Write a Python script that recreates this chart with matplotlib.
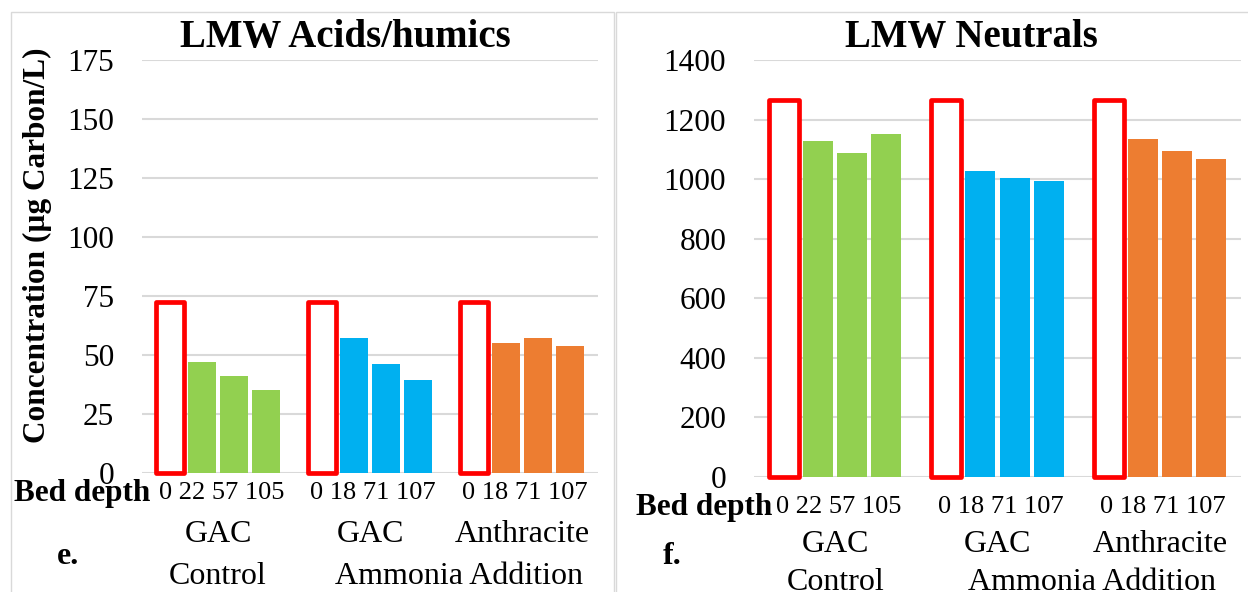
import matplotlib
matplotlib.use('Agg')
import matplotlib.pyplot as plt
import matplotlib.transforms as mtransforms
from matplotlib.patches import Rectangle

plt.rcParams['font.family'] = ['Liberation Serif', 'DejaVu Serif']

# Dane
groups_top = ['GAC', 'GAC', 'Anthracite']
groups_bottom = ['Control', 'Ammonia Addition']
depths = [['0', '22', '57', '105'], ['0', '18', '71', '107'], ['0', '18', '71', '107']]
colors = ['#92D050', '#00B0F0', '#ED7D31']

acids = [[47, 41, 35], [57, 46, 39.5], [55, 57, 54]]
acids_box = 72.5
neutrals = [[1128, 1088, 1152], [1027, 1004, 994], [1135, 1094, 1068]]
neutrals_box = 1265

W, H = 1248, 592
fig = plt.figure(figsize=(W / 100, H / 100), dpi=100)

# ramki paneli
fig.patches.append(Rectangle((11 / W, -0.1), (614 - 11) / W, 1.1 - 12 / H, transform=fig.transFigure,
                             fill=False, edgecolor='#D9D9D9', lw=1))
fig.patches.append(Rectangle((616 / W, -0.1), 0.6, 1.1 - 12 / H, transform=fig.transFigure,
                             fill=False, edgecolor='#D9D9D9', lw=1))


def px(x, y):
    return x / W, 1 - y / H


def panel(rect, values, box_top, ymax, ystep, title, title_x, letter, letter_x,
          bed_x, depth_y, row1_y, row2_y):
    ax = fig.add_axes(rect)
    for g in range(3):
        x0 = g * 4.75
        ax.bar(x0, box_top, width=0.875, facecolor='white', edgecolor='#FF0000', linewidth=3.4,
               joinstyle='round', zorder=3, clip_on=False)
        ax.bar([x0 + 1 + i for i in range(3)], values[g], width=0.875, color=colors[g], zorder=2)
    ax.set_xlim(-0.875, 13.375)
    ax.set_ylim(0, ymax)
    ax.set_yticks(range(0, ymax + 1, ystep))
    ax.tick_params(axis='y', length=0, pad=20, labelsize=22.5)
    ax.set_xticks([])
    for s in ax.spines.values():
        s.set_visible(False)
    ax.grid(axis='y', color='#D9D9D9', linewidth=1.5)
    ax.set_axisbelow(True)

    tr = mtransforms.blended_transform_factory(ax.transData, fig.transFigure)
    for g in range(3):
        xc = g * 4.75 + 1.5
        ax.text(xc + 0.1, 1 - depth_y / H, ' '.join(depths[g]), transform=tr, ha='center', va='center',
                fontsize=19, clip_on=False)
        ax.text(xc, 1 - row1_y / H, groups_top[g], transform=tr, ha='center', va='center',
                fontsize=23, clip_on=False)
    ax.text(1.5, 1 - row2_y / H, groups_bottom[0], transform=tr, ha='center', va='center',
            fontsize=23, clip_on=False)
    ax.text((4.75 + 1.5 + 9.5 + 1.5) / 2 + 0.4, 1 - row2_y / H, groups_bottom[1], transform=tr,
            ha='center', va='center', fontsize=23, clip_on=False)

    fig.text(*px(bed_x, depth_y), 'Bed depth', ha='right', va='center', fontsize=22.5, fontweight='bold')
    fig.text(*px(title_x, 38), title, ha='center', va='center', fontsize=28, fontweight='bold')
    fig.text(*px(letter_x, 556), letter, ha='center', va='center', fontsize=23, fontweight='bold')
    return ax


panel([142 / W, 1 - 473 / H, 456 / W, 413 / H], acids, acids_box, 175, 25,
      'LMW Acids/humics', 345, 'e.', 68, 150, 493, 535, 577)
panel([754 / W, 1 - 477 / H, 487 / W, 417 / H], neutrals, neutrals_box, 1400, 200,
      'LMW Neutrals', 971, 'f.', 672, 772, 507, 545, 582)

fig.text(*px(37, 245), 'Concentration (µg Carbon/L)', rotation=90, ha='center', va='center',
         fontsize=22.5, fontweight='bold')

fig.savefig('out.png', dpi=100)
